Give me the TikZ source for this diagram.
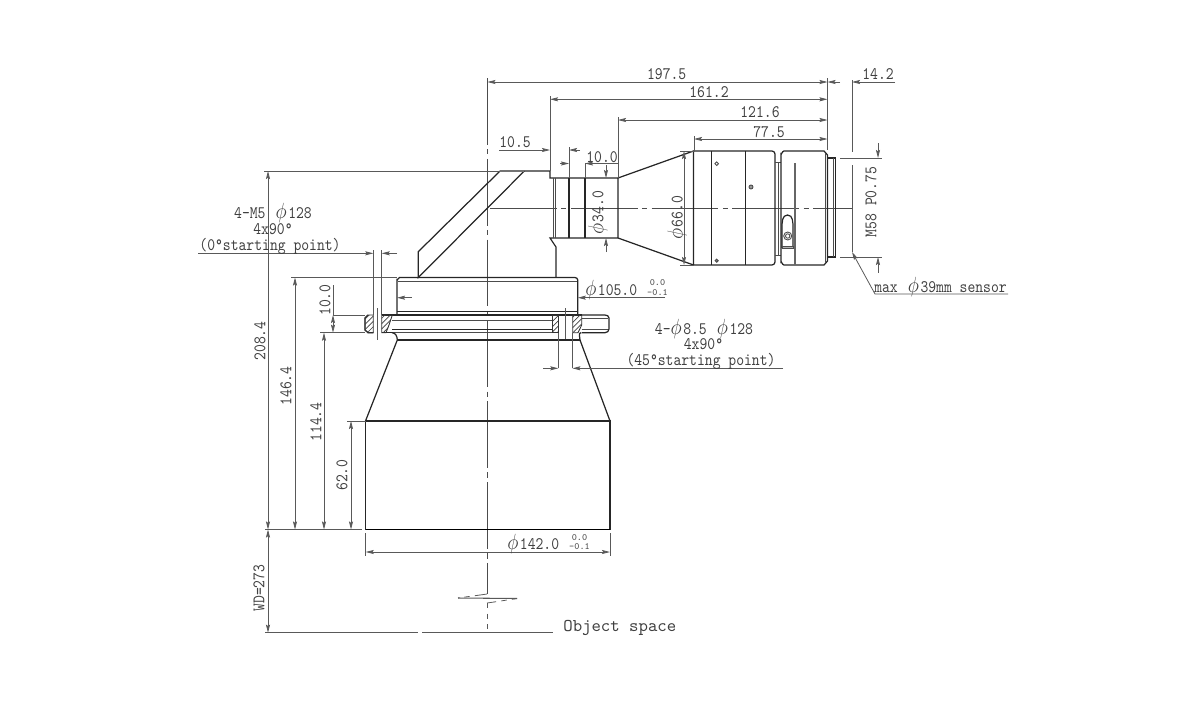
\documentclass[tikz,border=0pt]{standalone}
\usetikzlibrary{arrows.meta,patterns}
\newcommand{\dia}{\scalebox{1.25}{$\phi$}\kern1pt}
\begin{document}
\begin{tikzpicture}[x=0.02cm,y=-0.02cm,inner sep=0pt,>={Stealth[length=4.6pt,width=2.3pt,inset=0.8pt]},
  body/.style={line width=0.7pt,black!85},
  thin body/.style={line width=0.5pt,black!70},
  dimline/.style={line width=0.45pt,black!65},
  axisline/.style={line width=0.45pt,black!70,dash pattern=on 38pt off 2.5pt on 3pt off 2.5pt},
  lbl/.style={font=\ttfamily\fontsize{10}{10}\selectfont,xscale=0.85,text=black!75},
  biglbl/.style={font=\ttfamily\fontsize{10.2}{10.2}\selectfont,text=black!75},
  tol/.style={font=\ttfamily\fontsize{5.5}{5.5}\selectfont,text=black!70},
  hatch/.style={line width=0.5pt,black!80,pattern=north east lines,pattern color=black!75}]

\useasboundingbox (0,0) rectangle (1200,700);

% axes
\draw[axisline] (487,78) -- (487,594);
\draw[axisline] (490,208) -- (852,208);

% break sign
\draw[dimline] (487,594) -- (480,595);
\draw[dimline,dashed] (480,595) -- (458,598);
\draw[dimline,line width=0.6pt] (458,598) -- (517,598.5);
\draw[dimline,dashed] (517,598.5) -- (494,602);
\draw[dimline] (494,602) -- (487,603);
\draw[dimline,dashed] (487,603) -- (487,633);

% rear lens
\draw[body] (524,171) -- (550,171) -- (550,178) -- (618,178) -- (618,238) -- (550,238) -- (556,247) -- (556,277.5);
\draw[thin body] (553,178) -- (553,238);
\draw[thin body] (555,178) -- (555,238);
\draw[body] (569,178) -- (569,238);
\draw[body] (585,178) -- (585,238);
\draw[body] (618,178) -- (693.5,151);
\draw[body] (618,238) -- (693.5,265);

% barrel
\draw[body] (693.5,151) -- (772,151) to[out=0,in=90] (775,154) -- (775,262) to[out=-90,in=0] (772,265) -- (693.5,265) -- cycle;
\draw[body] (711.7,151) -- (711.7,265);
\draw[body] (745.5,151) -- (745.5,265);
\draw[thin body] (775,162) -- (781,162);
\draw[thin body] (775,255) -- (781,255);
\draw[thin body] (778,162) -- (778,255);
\draw[body] (781,154) to[out=-90,in=180] (784,151) -- (824,151) -- (827.5,155) -- (827.5,261) -- (824,265) -- (784,265) to[out=180,in=90] (781,262) -- cycle;
\draw[thin body] (825.5,153) -- (825.5,263);
\draw[body] (827.5,158) -- (835.5,158) -- (835.5,257) -- (827.5,257);
\draw[thin body] (833.5,158) -- (833.5,257);

% focus slot
\draw[line width=1pt,black!60] (795.3,163) -- (795.3,265);
\draw[body] (782,248) -- (782,228) to[out=90,in=180] (787.5,215) to[out=0,in=90] (793,228) -- (793,248);
\draw[thin body,fill=black!30] (782,246) rectangle (793,248.5);
\draw[thin body] (787.7,236) circle (4);
\draw[thin body] (787.7,236) circle (2.2);
\draw[thin body] (716.7,163.7) circle (1.8);
\draw[thin body,fill=black!40] (751,187) circle (2);
\draw[thin body,fill=black!50] (716.7,260.7) circle (1.6);

% prism housing
\draw[body] (500,171) -- (418.3,251.7) -- (418.3,277.5) -- (524.3,171);
\draw[line width=1pt,black!55] (500,171) -- (524.3,171);

% upper flange
\draw[body] (397,315) -- (397,280) to[out=-90,in=180] (399.5,277.5) -- (575,277.5) to[out=0,in=90] (577.7,280) -- (577.7,315);
\draw[thin body] (398,281) -- (577,281);
\draw[body] (397,311.7) -- (577.7,311.7);
\draw[body] (381.7,315) -- (581.7,315);

% mount plate
\draw[body] (368,315) -- (365,318) -- (365,330) -- (368,332.7) -- (373.3,332.7);
\draw[body] (381.7,332.7) -- (392.3,332.7);
\draw[thin body] (392.3,320) -- (552.7,320);
\draw[body] (392.3,329.3) -- (552.7,329.3);
\draw[thin body] (392.3,332.7) -- (552.7,332.7);
\draw[body] (581.7,315) -- (605,315) to[out=0,in=90] (609,318) -- (609,329) to[out=-90,in=0] (605,332.7) -- (581.7,332.7);
\draw[thin body] (581.7,318) -- (608,318);
\draw[thin body] (581.7,329.3) -- (608,329.3);
\draw[hatch] (368,315) -- (373.3,315) -- (373.3,332.7) -- (368,332.7) -- (365,330) -- (365,318) -- cycle;
\draw[hatch] (381.7,315) -- (392.3,315) -- (389,325) -- (386,332.7) -- (381.7,332.7) -- cycle;
\draw[hatch] (552.7,315) -- (558.7,315) -- (558.7,332.7) -- (552.7,332.7) -- cycle;
\draw[hatch] (572.7,315) -- (581.7,315) -- (581.7,325) -- (578,332.7) -- (572.7,332.7) -- cycle;
\draw[dimline] (377.3,308) -- (377.3,340);
\draw[dimline] (565.3,308) -- (565.3,340);

% front lens
\draw[body] (392,332.7) to[out=0,in=90] (397.3,340) -- (365.5,421);
\draw[body] (581,332.7) to[out=180,in=90] (580,340) -- (610,421);
\draw[body] (397.3,340) -- (580,340);
\draw[body] (365.5,421) -- (610,421) -- (610,529.5);
\draw[body] (365.5,421) -- (365.5,529.5);
\draw[line width=0.9pt,black] (365.5,529.5) -- (610,529.5);

% extension lines
\draw[dimline] (827.5,78) -- (827.5,150);
\draw[dimline] (852,80) -- (852,152);
\draw[dimline] (852,165) -- (852,252);
\draw[dimline] (550,96) -- (550,171);
\draw[dimline] (618,117) -- (618,178);
\draw[dimline] (694,136) -- (694,151);
\draw[dimline] (569,147) -- (569,178);
\draw[dimline] (585,163) -- (585,178);
\draw[dimline] (840,158) -- (882,158);
\draw[dimline] (840,257) -- (882,257);
\draw[dimline] (264,171) -- (500,171);
\draw[dimline] (291,277.5) -- (397,277.5);
\draw[dimline] (320,332.7) -- (365,332.7);
\draw[dimline] (333,315) -- (365,315);
\draw[dimline] (347,421) -- (365.5,421);
\draw[dimline] (265,529.5) -- (362,529.5);
\draw[dimline] (365.7,533) -- (365.7,556);
\draw[dimline] (610,533) -- (610,556);
\draw[dimline] (265,632.7) -- (418,632.7);
\draw[dimline] (422,632.7) -- (553,632.7);
\draw[dimline] (373.3,250) -- (373.3,315);
\draw[dimline] (381.7,250) -- (381.7,315);
\draw[dimline] (558.3,332.7) -- (558.3,368);
\draw[dimline] (572.3,332.7) -- (572.3,368);

% dimension lines, top
\draw[dimline,<->] (487.4,82) -- (827.5,82);
\draw[dimline,->] (840,82) -- (827.5,82);
\draw[dimline,->] (895,82) -- (852,82);
\draw[dimline,<->] (550,99.3) -- (827.5,99.3);
\draw[dimline,<->] (618,120) -- (827.5,120);
\draw[dimline,<->] (694,139) -- (827.5,139);
\draw[dimline,->] (499,150) -- (550,150);
\draw[dimline,->] (580,150) -- (569,150);
\draw[dimline,->] (560,163.5) -- (569,163.5);
\draw[dimline,->] (618,163.5) -- (585,163.5);

% dimension lines, diameters
\draw[dimline,->] (606,165) -- (606,178);
\draw[dimline,->] (606,252) -- (606,238);
\draw[dimline,<->] (684,151) -- (684,265);
\draw[dimline] (680,151) -- (693.5,151);
\draw[dimline] (680,265) -- (693.5,265);
\draw[dimline,->] (878,143) -- (878,158);
\draw[dimline,->] (878,272.5) -- (878,257);
\draw[dimline,<-] (852,252) -- (875,294) -- (1008,294);
\draw[dimline,<-] (397,297.7) -- (412,297.7);
\draw[dimline,->] (665,297.7) -- (577.7,297.7);
\draw[dimline,<->] (365.7,552) -- (610,552);

% dimension lines, left
\draw[dimline,<->] (268,171) -- (268,529.5);
\draw[dimline,<->] (295,277.5) -- (295,529.5);
\draw[dimline,<->] (324,332.7) -- (324,529.5);
\draw[dimline,<->] (351,421) -- (351,529.5);
\draw[dimline,<->] (268,529.5) -- (268,632.7);
\draw[dimline] (333,285) -- (333,315);
\draw[dimline,<->] (333,315) -- (333,332.7);

% hole leaders
\draw[dimline,->] (198,253.3) -- (373.3,253.3);
\draw[dimline,->] (397,253.3) -- (381.7,253.3);
\draw[dimline,->] (543,368.3) -- (558.3,368.3);
\draw[dimline,->] (783,368.3) -- (572.3,368.3);

% labels
\node[lbl] (d1975) at (666.7,74) {197.5};
\node[lbl] (d1612) at (709,91.7) {161.2};
\node[lbl] (d1216) at (760,112) {121.6};
\node[lbl] (d775) at (769,131.7) {77.5};
\node[lbl] (d105) at (515,142) {10.5};
\node[lbl] (d100a) at (602,157) {10.0};
\node[lbl] (d142) at (878,74) {14.2};

\node[rotate=90,lbl] (dia34) at (598,213) {\dia34.0};
\node[rotate=90,lbl] (dia66) at (677,218) {\dia66.0};
\node[rotate=90,lbl] (m58) at (871,202) {M58 P0.75};
\node[lbl,anchor=west] (sensor) at (874,287) {max \kern1.5pt\dia39mm sensor};

\node[lbl,anchor=west] (dia105) at (585,290) {\dia105.0};
\node[tol] (tol105a) at (657.5,283) {0.0};
\node[tol] (tol105b) at (657.5,292.5) {-0.1};
\node[lbl,anchor=west] (dia142) at (507,544) {\dia142.0};
\node[tol] (tol142a) at (579.5,537.5) {0.0};
\node[tol] (tol142b) at (579.5,547) {-0.1};

\node[lbl] (holeA) at (273,213) {4-M5 \kern1.5pt\dia128};
\node[lbl] (holeB) at (273,229) {4x90°};
\node[lbl] (holeC) at (270,246) {(0°starting point)};
\node[lbl] (holeD) at (704,329) {4-\dia8.5 \kern1.5pt\dia128};
\node[lbl] (holeE) at (703.5,344.5) {4x90°};
\node[lbl] (holeF) at (701,361.5) {(45°starting point)};

\node[rotate=90,lbl] (d2084) at (260,341) {208.4};
\node[rotate=90,lbl] (d1464) at (286,386) {146.4};
\node[rotate=90,lbl] (d1144) at (316,422) {114.4};
\node[rotate=90,lbl] (d620) at (342,475) {62.0};
\node[rotate=90,lbl] (d100b) at (325,300) {10.0};
\node[rotate=90,lbl] (wd) at (259,588) {WD=273};
\node[biglbl,anchor=west] (object) at (563,627.5) {Object space};

\end{tikzpicture}
\end{document}
